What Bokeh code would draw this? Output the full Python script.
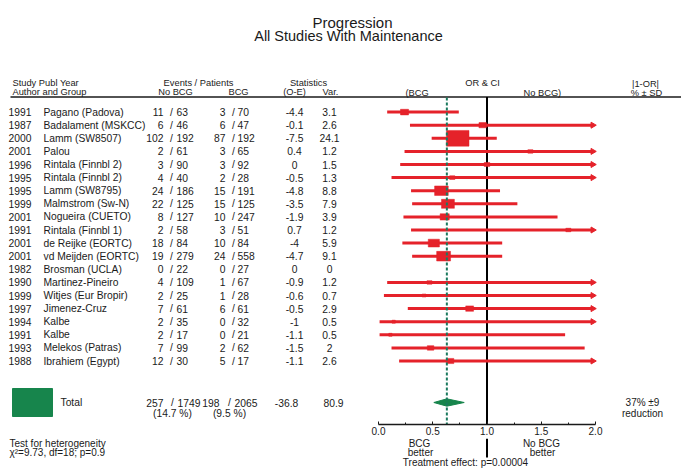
import math
from bokeh.plotting import figure
from bokeh.layouts import column
from bokeh.models import (Range1d, LinearAxis, FixedTicker, PrintfTickFormatter,
                          ColumnDataSource)
from bokeh.core.properties import value
from bokeh.embed import file_html
from bokeh.resources import INLINE

# ---------------- data ----------------
years = ["1991", "1987", "2000", "2001", "1996", "1995", "1995", "1999", "2001", "1991",
         "2001", "2001", "1982", "1990", "1999", "1997", "1994", "1991", "1993", "1988"]
authors = ["Pagano (Padova)", "Badalament (MSKCC)", "Lamm (SW8507)", "Palou",
           "Rintala (Finnbl 2)", "Rintala (Finnbl 2)", "Lamm (SW8795)", "Malmstrom (Sw-N)",
           "Nogueira (CUETO)", "Rintala (Finnbl 1)", "de Reijke (EORTC)", "vd Meijden (EORTC)",
           "Brosman (UCLA)", "Martinez-Pineiro", "Witjes (Eur Bropir)", "Jimenez-Cruz",
           "Kalbe", "Kalbe", "Melekos (Patras)", "Ibrahiem (Egypt)"]
ev_nobcg = [11, 6, 102, 2, 3, 4, 24, 22, 8, 2, 18, 19, 0, 4, 2, 7, 2, 2, 7, 12]
pt_nobcg = [63, 46, 192, 61, 90, 40, 186, 125, 127, 58, 84, 279, 22, 109, 25, 61, 35, 17, 99, 30]
ev_bcg = [3, 6, 87, 3, 3, 2, 15, 15, 10, 3, 10, 24, 0, 1, 1, 6, 0, 0, 2, 5]
pt_bcg = [70, 47, 192, 65, 92, 28, 191, 125, 247, 51, 84, 558, 27, 67, 28, 61, 32, 21, 62, 17]
o_minus_e = ["-4.4", "-0.1", "-7.5", "0.4", "0", "-0.5", "-4.8", "-3.5", "-1.9", "0.7",
             "-4", "-4.7", "0", "-0.9", "-0.6", "-0.5", "-1", "-1.1", "-1.5", "-1.1"]
variance = ["3.1", "2.6", "24.1", "1.2", "1.5", "1.3", "8.8", "7.9", "3.9", "1.2",
            "5.9", "9.1", "0", "1.2", "0.7", "2.9", "0.5", "0.5", "2", "2.6"]
# odds ratios and 95% CI (None = no estimate)
odds_ratio = [0.24, 0.96, 0.73, 1.40, 1.00, 0.68, 0.58, 0.64, 0.61, 1.75,
              0.51, 0.60, None, 0.47, 0.42, 0.84, 0.14, 0.11, 0.48, 0.66]
ci_low = [0.08, 0.29, 0.49, 0.24, 0.20, 0.12, 0.30, 0.31, 0.23, 0.30,
          0.22, 0.31, None, 0.08, 0.05, 0.27, 0.01, 0.01, 0.12, 0.19]
ci_high = [0.74, 3.2, 1.09, 8.3, 4.9, 3.8, 1.12, 1.28, 1.65, 10.7,
           1.14, 1.14, None, 2.8, 4.4, 2.7, 2.2, 1.72, 1.90, 2.2]

total_events = ["257", "1749", "198", "2065"]
total_pct = ["(14.7 %)", "(9.5 %)"]
total_stats = ["-36.8", "80.9"]
total_or, total_lo, total_hi = 0.63, 0.51, 0.79
reduction = ["37% \u00b19", "reduction"]

or_ticks = [0.0, 0.5, 1.0, 1.5, 2.0]
or_minor = [0.25, 0.75, 1.25, 1.75]
null_or = 1.0
or_max = 2.0

FONT = "Liberation Sans"
RED = "#e5222a"
GREEN = "#17854c"
TEAL = "#1a7a5e"
INK = "#1a1a1a"

# ---------------- layout helpers (reference pixel -> data) ----------------
W = 681
AXIS_Y = 424          # frame bottom of the main figure
AXIS_BORDER = 14
TOP_H = AXIS_Y + AXIS_BORDER
BOT_H = 470 - TOP_H


def X(px):
    return (px - 378.0) / 108.5


def R(py):
    return (py - 111.6) / 13.1


xr = Range1d(X(0), X(W))

p = figure(width=W, height=TOP_H, x_range=xr, y_range=Range1d(R(AXIS_Y), R(0)),
           x_axis_type=None, y_axis_type=None, toolbar_location=None, output_backend="svg",
           min_border_left=0, min_border_right=0, min_border_top=0,
           min_border_bottom=AXIS_BORDER)
q = figure(width=W, height=BOT_H, x_range=xr, y_range=Range1d(R(470), R(TOP_H)),
           x_axis_type=None, y_axis_type=None, toolbar_location=None, output_backend="svg",
           min_border_left=0, min_border_right=0, min_border_top=0, min_border_bottom=0)
for f in (p, q):
    f.outline_line_color = None
    f.background_fill_color = "white"
    f.border_fill_color = "white"

ax = LinearAxis(ticker=FixedTicker(ticks=or_ticks, minor_ticks=or_minor),
                formatter=PrintfTickFormatter(format="%.1f"), bounds=(or_ticks[0], or_ticks[-1]))
ax.axis_line_width = 1.5
ax.axis_line_color = INK
ax.major_tick_in = 3
ax.major_tick_out = 0
ax.minor_tick_in = 2
ax.minor_tick_out = 0
ax.major_tick_line_color = INK
ax.minor_tick_line_color = INK
ax.major_label_standoff = 2
ax.major_label_text_font = FONT
ax.major_label_text_font_size = "10px"
ax.major_label_text_color = INK
p.add_layout(ax, "below")

rows = list(range(len(years)))
RS = "10.3px"


def txt(xs, ys, texts, align="left", size=RS, fig=None):
    fig = fig or p
    src = ColumnDataSource(dict(x=xs, y=ys, t=texts))
    fig.text(x="x", y="y", text="t", source=src, text_align=align, text_baseline="middle",
             text_font=value(FONT), text_font_size=size, text_color=INK)


# title
txt([X(352)], [R(21.5)], ["Progression"], "center", "15px")
txt([X(348)], [R(35)], ["All Studies With Maintenance"], "center", "14.5px")

# headers
HS = "9.3px"
txt([X(12)], [R(82)], ["Study Publ Year"], "left", HS)
txt([X(12)], [R(91.5)], ["Author and Group"], "left", HS)
txt([X(198)], [R(82)], ["Events / Patients"], "center", HS)
txt([X(175)], [R(91.5)], ["No BCG"], "center", HS)
txt([X(238)], [R(91.5)], ["BCG"], "center", HS)
txt([X(308)], [R(82)], ["Statistics"], "center", HS)
txt([X(294)], [R(91.5)], ["(O-E)"], "center", HS)
txt([X(330)], [R(91.5)], ["Var."], "center", HS)
txt([X(482)], [R(82)], ["OR & CI"], "center", HS)
txt([X(405)], [R(92)], ["(BCG"], "left", HS)
txt([X(523)], [R(92)], ["No BCG)"], "left", HS)
txt([X(645)], [R(83)], ["|1-OR|"], "center", HS)
txt([X(646)], [R(92)], ["% \u00b1 SD"], "center", HS)

# header rule
p.segment(x0=[X(10)], y0=[R(96.5)], x1=[X(681)], y1=[R(96.5)], line_color=INK, line_width=1.3)

# table rows
n = len(rows)
txt([X(8)] * n, rows, years)
txt([X(43)] * n, rows, authors)
txt([X(163)] * n, rows, [str(v) for v in ev_nobcg], "right")
txt([X(171)] * n, rows, ["/"] * n, "center")
txt([X(176)] * n, rows, [str(v) for v in pt_nobcg], "left")
txt([X(225)] * n, rows, [str(v) for v in ev_bcg], "right")
txt([X(233)] * n, rows, ["/"] * n, "center")
txt([X(237)] * n, rows, [str(v) for v in pt_bcg], "left")
txt([X(294)] * n, rows, o_minus_e, "center")
txt([X(329)] * n, rows, variance, "center")

# no-effect line
p.segment(x0=[null_or], y0=[R(96.5)], x1=[null_or], y1=[R(AXIS_Y)], line_color="black",
          line_width=2)

# forest plot
idx = [i for i in rows if odds_ratio[i] is not None]
seg = ColumnDataSource(dict(
    y=[rows[i] for i in idx],
    lo=[max(ci_low[i], 0.0) for i in idx],
    hi=[min(ci_high[i], or_max - 0.02) for i in idx],
    orv=[odds_ratio[i] for i in idx],
    w=[4.6 * math.sqrt(float(variance[i])) for i in idx],
    h=[max(3.2 * math.sqrt(float(variance[i])), 3.0) for i in idx],
))
p.segment(x0="lo", y0="y", x1="hi", y1="y", source=seg, line_color=RED, line_width=3)
p.rect(x="orv", y="y", width="w", height="h", width_units="screen", height_units="screen",
       source=seg, fill_color=RED, line_color=RED, line_width=0.5)
arr_rows = [rows[i] for i in idx if ci_high[i] > or_max]
p.scatter(x=[or_max - 0.025] * len(arr_rows), y=arr_rows, marker="triangle",
          angle=-math.pi / 2, size=6, fill_color=RED, line_color=RED)

# total row
ty = R(402)
ty2 = R(413)
p.rect(x=[X(32)], y=[ty], width=[40], height=[28], width_units="screen", height_units="screen",
       fill_color=GREEN, line_color=GREEN)
txt([X(60)], [ty], ["Total"])
txt([X(163)], [ty], [total_events[0]], "right")
txt([X(172)], [ty], ["/"], "center")
txt([X(177)], [ty], [total_events[1]], "left")
txt([X(219)], [ty], [total_events[2]], "right")
txt([X(229)], [ty], ["/"], "center")
txt([X(234)], [ty], [total_events[3]], "left")
txt([X(172)], [ty2], [total_pct[0]], "center")
txt([X(229)], [ty2], [total_pct[1]], "center")
txt([X(286)], [ty], [total_stats[0]], "center")
txt([X(333)], [ty], [total_stats[1]], "center")
txt([X(642)], [ty], [reduction[0]], "center", "10px")
txt([X(642)], [ty2], [reduction[1]], "center", "10px")

p.patch(x=[total_lo, total_or, total_hi, total_or], y=[ty, ty - 0.28, ty, ty + 0.28],
        fill_color=GREEN, line_color=GREEN)
p.segment(x0=[total_or], y0=[R(97)], x1=[total_or], y1=[R(AXIS_Y)], line_color=TEAL,
          line_width=2, line_dash="3 2")

# below the axis (second figure, same x scale)
txt([X(9)], [R(443)], ["Test for heterogeneity"], "left", "10px", q)
txt([X(9)], [R(452)], ["\u03c7\u00b2=9.73, df=18; p=0.9"], "left", "10px", q)
txt([X(419)], [R(443)], ["BCG"], "center", "10px", q)
txt([X(420)], [R(452)], ["better"], "center", "10px", q)
txt([X(541)], [R(443)], ["No BCG"], "center", "10px", q)
txt([X(542)], [R(452)], ["better"], "center", "10px", q)
txt([X(465)], [R(462)], ["Treatment effect: p=0.00004"], "center", "10px", q)
q.segment(x0=[null_or], y0=[R(438)], x1=[null_or], y1=[R(457)], line_color="black",
          line_width=2)

layout = column(p, q, spacing=0)
open("out.html", "w").write(file_html(layout, INLINE))
